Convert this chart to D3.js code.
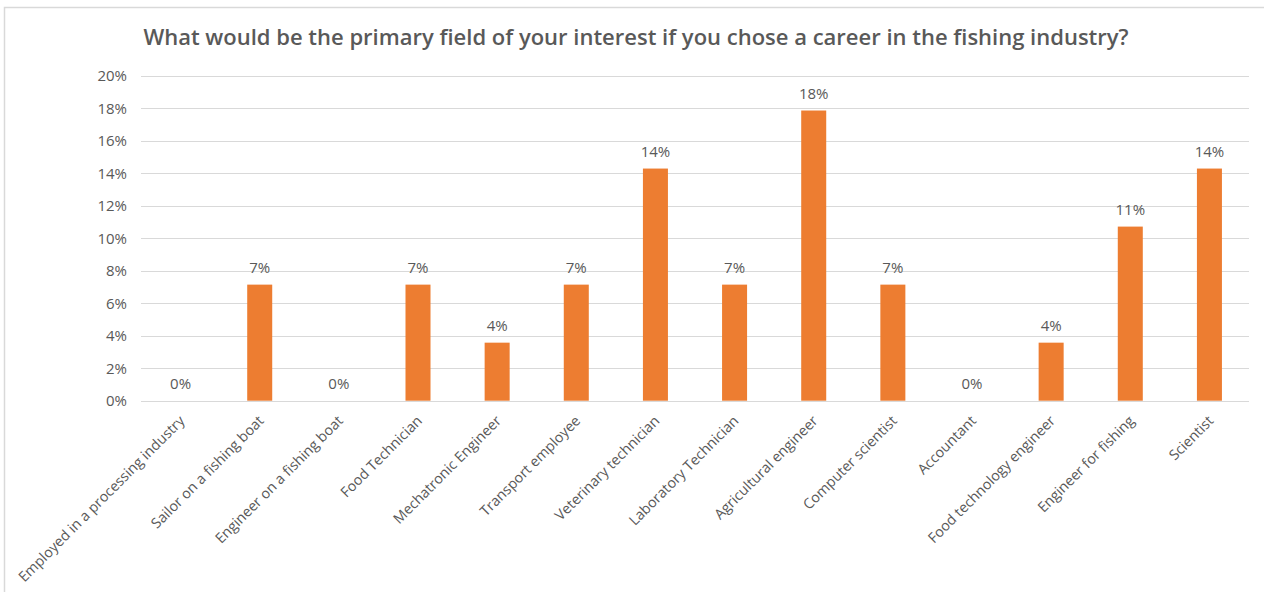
<!DOCTYPE html>
<html>
<head>
<meta charset="utf-8">
<script src="https://cdn.jsdelivr.net/npm/d3@7"></script>
<style>
  html, body { margin: 0; padding: 0; background: #fff; }
  svg { display: block; }
  text { font-family: "Open Sans", "Noto Sans", sans-serif; fill: #595959; }
</style>
</head>
<body>
<svg id="chart" width="1264" height="592"></svg>
<script>
// Survey answers (share of 28 respondents)
const categories = [
  "Employed in a processing industry",
  "Sailor on a fishing boat",
  "Engineer on a fishing boat",
  "Food Technician",
  "Mechatronic Engineer",
  "Transport employee",
  "Veterinary technician",
  "Laboratory Technician",
  "Agricultural engineer",
  "Computer scientist",
  "Accountant",
  "Food technology engineer",
  "Engineer for fishing",
  "Scientist"
];
const shares = [0, 2/28, 0, 2/28, 1/28, 2/28, 4/28, 2/28, 5/28, 2/28, 0, 1/28, 3/28, 4/28];
const yTicks = [0, 0.02, 0.04, 0.06, 0.08, 0.10, 0.12, 0.14, 0.16, 0.18, 0.20];
const title = "What would be the primary field of your interest if you chose a career in the fishing industry?";

const svg = d3.select("#chart");
const W = 1264, H = 592;
const plot = { left: 141, right: 1249, top: 75.7, bottom: 400.7 };

// chart frame (top and left edges visible)
svg.append("path")
  .attr("d", `M4.5,${H} L4.5,7.5 L${W},7.5`)
  .attr("fill", "none").attr("stroke", "#d9d9d9").attr("stroke-width", 1.5);

svg.append("text")
  .attr("x", 636).attr("y", 45)
  .attr("text-anchor", "middle")
  .style("font-size", "22px").style("font-weight", "600")
  .text(title);

const x = d3.scaleBand().domain(categories).range([plot.left, plot.right]).paddingInner(0.684).paddingOuter(0.342);
const y = d3.scaleLinear().domain([0, 0.2]).range([plot.bottom, plot.top]);

// gridlines
svg.append("g").selectAll("line").data(yTicks).join("line")
  .attr("x1", plot.left).attr("x2", plot.right)
  .attr("y1", d => Math.round(y(d)) + 0.5).attr("y2", d => Math.round(y(d)) + 0.5)
  .attr("stroke", "#d9d9d9").attr("stroke-width", 1);

// y axis labels
const yAxis = d3.axisLeft(y).tickValues(yTicks).tickFormat(d3.format(".0%")).tickSize(0).tickPadding(14);
const gy = svg.append("g").attr("transform", `translate(${plot.left},0)`).call(yAxis);
gy.select(".domain").remove();
gy.selectAll("text").style("font-size", "15px").style("fill", "#595959").style("font-family", "'Open Sans', sans-serif");

// bars
svg.append("g").selectAll("rect").data(shares).join("rect")
  .attr("x", (d, i) => x(categories[i]))
  .attr("width", x.bandwidth())
  .attr("y", d => y(d))
  .attr("height", d => y(0) - y(d))
  .attr("fill", "#ED7D31");

// value labels
svg.append("g").selectAll("text").data(shares).join("text")
  .attr("x", (d, i) => x(categories[i]) + x.bandwidth() / 2)
  .attr("y", d => y(d) - 12)
  .attr("text-anchor", "middle")
  .style("font-size", "15px")
  .text(d => d3.format(".0%")(d));

// x axis labels, rotated
const xAxis = d3.axisBottom(x).tickSize(0).tickPadding(0);
const gx = svg.append("g").attr("transform", `translate(0,${plot.bottom})`).call(xAxis);
gx.select(".domain").remove();
gx.selectAll("text")
  .style("font-size", "14.3px").style("fill", "#595959").style("font-family", "'Open Sans', sans-serif")
  .attr("text-anchor", "end")
  .attr("dy", "0")
  .attr("transform", "translate(5,21) rotate(-45)");
</script>
</body>
</html>
